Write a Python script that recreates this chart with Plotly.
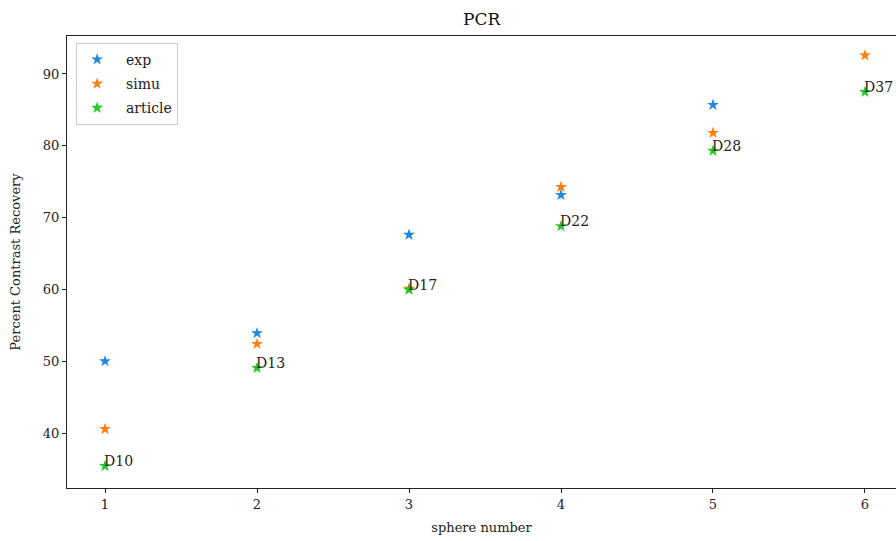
import plotly.graph_objects as go

sphere_exp = [1, 2, 3, 4, 5]
exp_vals = [50.0, 53.9, 67.6, 73.15, 85.7]
sphere_all = [1, 2, 3, 4, 5, 6]
simu_vals = [40.55, 52.4, 60.1, 74.25, 81.8, 92.6]
article_vals = [35.4, 49.05, 59.95, 68.8, 79.3, 87.5]
labels = ["D10", "D13", "D17", "D22", "D28", "D37"]
x_ticks = [1, 2, 3, 4, 5, 6]
y_ticks = [40, 50, 60, 70, 80, 90]

FONT = "DejaVu Serif"
fig = go.Figure()
fig.add_trace(go.Scatter(x=sphere_exp, y=exp_vals, mode="markers", name="&nbsp;&nbsp;exp", legendgroup="a",
                         marker=dict(symbol="star", size=9, color="#1f88e0", line=dict(width=0))))
fig.add_trace(go.Scatter(x=sphere_all, y=simu_vals, mode="markers", name="&nbsp;&nbsp;simu", legendgroup="b",
                         marker=dict(symbol="star", size=9, color="#ff7f0e", line=dict(width=0))))
fig.add_trace(go.Scatter(x=sphere_all, y=article_vals, mode="markers", name="&nbsp;&nbsp;article", legendgroup="c",
                         marker=dict(symbol="star", size=9, color="#22c922", line=dict(width=0))))

for xv, yv, t in zip(sphere_all, article_vals, labels):
    fig.add_annotation(x=xv, y=yv, text=t, showarrow=False, xanchor="left", yanchor="bottom",
                       xshift=-3, yshift=-5, font=dict(family=FONT, size=14, color="#222"))

fig.update_layout(
    width=896, height=541,
    margin=dict(l=67, r=0, t=36, b=53),
    paper_bgcolor="white", plot_bgcolor="white",
    font=dict(family=FONT, size=13, color="#222"),
    title=dict(text="PCR", x=0.5375, xanchor="center", y=0.965, yanchor="middle",
               font=dict(family=FONT, size=17, color="#111")),
    showlegend=True,
    legend=dict(x=0.011, y=0.985, xanchor="left", yanchor="top",
                bgcolor="rgba(255,255,255,0.8)", bordercolor="#ccc", borderwidth=1,
                traceorder="grouped", tracegroupgap=3,
                font=dict(family=FONT, size=14)),
)
fig.update_xaxes(range=[0.75, 6.204], tickvals=x_ticks, showgrid=False, zeroline=False,
                 showline=True, linecolor="#222", linewidth=1, mirror=True,
                 ticks="outside", ticklen=4, tickcolor="#222",
                 title=dict(text="sphere number", font=dict(family=FONT, size=13), standoff=12))
fig.update_yaxes(range=[32.34, 95.29], tickvals=y_ticks, showgrid=False, zeroline=False,
                 showline=True, linecolor="#222", linewidth=1, mirror=True,
                 ticks="outside", ticklen=4, tickcolor="#222",
                 title=dict(text="Percent Contrast Recovery", font=dict(family=FONT, size=13), standoff=19))

fig.write_html("out.html", config={"displayModeBar": False},
               post_script="document.body.style.margin='0';document.body.style.overflow='hidden';")
